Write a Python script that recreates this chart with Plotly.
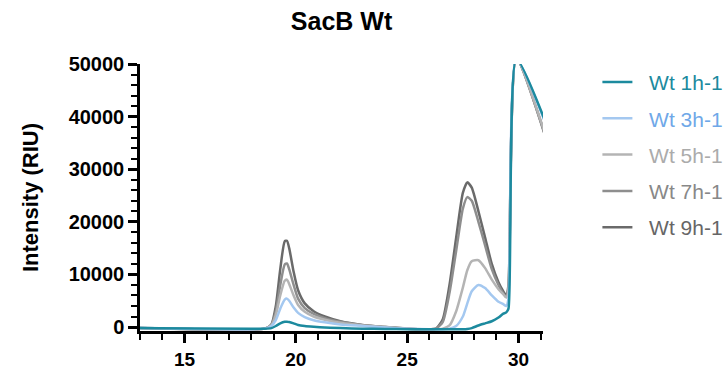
import plotly.graph_objects as go

x_min = [13.0, 18.6, 18.9, 19.1, 19.3, 19.5, 19.6, 19.7, 19.9, 20.1, 20.4, 20.8, 21.3, 22.0, 23.0, 24.0,
         25.0, 26.0, 26.3, 26.6, 26.9, 27.2, 27.5, 27.7, 27.9, 28.2, 28.5, 28.8, 29.1, 29.3, 29.45, 29.55,
         29.9, 31.2]

wt_9h = [-200, -300, 500, 4000, 11000, 16300, 16400, 15000, 10500, 7000, 4500, 3000, 2000, 1100, 400, 0,
         -300, -400, -300, 1500, 8000, 17000, 25500, 27500, 26500, 22000, 17000, 12000, 8500, 6900, 6000, 8000,
         51000, 36300]
wt_7h = [-200, -300, 400, 3000, 8000, 11900, 12100, 11000, 8000, 5400, 3600, 2500, 1700, 1000, 350, 0,
         -300, -400, -300, 1000, 6500, 14500, 22500, 24700, 24000, 20000, 15500, 11000, 8000, 6500, 5700, 7500,
         51000, 36500]
wt_5h = [-200, -300, 300, 2300, 6000, 8800, 9000, 8200, 6000, 4200, 2900, 2000, 1400, 800, 300, 0,
         -300, -400, -400, -300, 300, 3000, 7500, 10800, 12500, 12700, 11200, 9000, 7200, 6300, 5600, 7000,
         51000, 36600]
wt_3h = [-200, -300, 200, 1300, 3500, 5200, 5400, 5000, 3700, 2700, 1900, 1300, 900, 500, 200, -100,
         -300, -400, -400, -400, -300, 200, 2000, 4500, 6800, 8000, 7400, 6000, 4800, 4400, 4000, 5500,
         51000, 38800]
wt_1h = [-200, -300, -200, 200, 700, 1000, 1000, 950, 700, 400, 200, 50, -100, -200, -300, -350,
         -400, -400, -400, -400, -400, -400, -400, -350, -200, 300, 700, 1100, 1800, 2500, 2800, 3500,
         51000, 39100]

series_names = ["Wt 1h-1", "Wt 3h-1", "Wt 5h-1", "Wt 7h-1", "Wt 9h-1"]
series_vals = [wt_1h, wt_3h, wt_5h, wt_7h, wt_9h]
line_colors = ["#1C8A9E", "#A4C8F0", "#B4B4B4", "#8E8E8E", "#6A6A6A"]
text_colors = ["#1C8A9E", "#6FA8E8", "#ABABAB", "#888888", "#666666"]

FONT = "Liberation Sans, Arial, sans-serif"
NBSP = "\u00a0\u00a0"

fig = go.Figure()
for i in reversed(range(5)):
    fig.add_trace(go.Scatter(
        x=x_min, y=series_vals[i], mode="lines",
        name=f"<span style='color:{text_colors[i]}'>{NBSP}{series_names[i]}</span>",
        line=dict(color=line_colors[i], width=2.5, shape="spline", smoothing=0.6),
        legendrank=i + 1, legendgroup=f"g{i}",
    ))

fig.update_layout(
    width=727, height=371,
    margin=dict(l=140, r=184, t=64, b=40, autoexpand=False),
    plot_bgcolor="white", paper_bgcolor="white",
    font=dict(family=FONT, color="black"),
    title=dict(text="<b>SacB Wt</b>", x=0.5, xref="paper", xanchor="center",
               y=0.965, yref="container", font=dict(size=25, color="black")),
    showlegend=True,
    legend=dict(x=1.135, y=1.008, xanchor="left", yanchor="top", font=dict(size=21),
                tracegroupgap=6, bgcolor="rgba(0,0,0,0)", itemwidth=30),
    xaxis=dict(range=[13, 31.1], tickvals=[15, 20, 25, 30], showgrid=False, zeroline=False,
               automargin=False,
               showline=True, linecolor="black", linewidth=2.5,
               ticks="outside", ticklen=9, tickwidth=2.5, tickcolor="black",
               tickfont=dict(size=19, color="black", family=FONT, weight="bold"),
               minor=dict(dtick=1, tick0=0, ticks="outside", ticklen=6, tickwidth=2, tickcolor="black")),
    yaxis=dict(range=[-750, 50000], tickvals=[0, 10000, 20000, 30000, 40000, 50000], tickformat="d",
               showgrid=False, automargin=False,
               zeroline=False, showline=True, linecolor="black", linewidth=2.5,
               ticks="outside", ticklen=9, tickwidth=2.5, tickcolor="black",
               tickfont=dict(size=20, color="black", family=FONT, weight="bold"),
               minor=dict(dtick=2000, tick0=0, ticks="outside", ticklen=6, tickwidth=2, tickcolor="black"),
               title=dict(text="<b>Intensity (RIU)</b>", font=dict(size=22, color="black"), standoff=24)),
)

fig.write_html("out.html")
